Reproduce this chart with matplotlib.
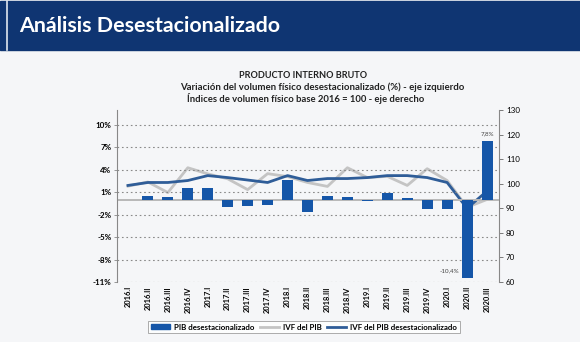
import numpy as np
import matplotlib.pyplot as plt
from matplotlib.patches import Rectangle
from matplotlib.lines import Line2D

plt.rcParams['font.family'] = ['Lato', 'DejaVu Sans']

# data
quarters = ['2016.I', '2016.II', '2016.III', '2016.IV',
            '2017.I', '2017.II', '2017.III', '2017.IV',
            '2018.I', '2018.II', '2018.III', '2018.IV',
            '2019.I', '2019.II', '2019.III', '2019.IV',
            '2020.I', '2020.II', '2020.III']
pib_desest = [np.nan, 0.5, 0.3, 1.6, 1.6, -1.0, -0.8, -0.7, 2.7, -1.7,
              0.5, 0.4, -0.2, 0.9, 0.2, -1.2, -1.2, -10.4, 7.8]
ivf_pib = [99.0, 100.7, 96.4, 106.5, 104.0, 102.0, 97.6, 104.1, 102.9, 100.5,
           98.9, 106.5, 102.5, 103.0, 99.3, 106.1, 101.3, 90.4, 93.6]
ivf_desest = [99.3, 100.5, 100.5, 101.3, 103.3, 102.5, 101.5, 100.5, 103.3, 101.3,
              102.1, 102.1, 102.5, 103.3, 103.3, 102.5, 100.5, 90.0, 97.0]
left_ticks = [10, 7, 4, 1, -2, -5, -8, -11]
right_ticks = [60, 70, 80, 90, 100, 110, 120, 130]

bar_color = '#1556a8'
dark_line = '#2f5d98'
gray_line = '#c4c4c4'
bg = '#f5f6f8'

W, H = 580, 342
fig = plt.figure(figsize=(W / 100, H / 100), dpi=100, facecolor=bg)

# header band
fig.patches.append(Rectangle((0, 1 - 50 / H), 1, 49 / H, transform=fig.transFigure,
                             color='#0f3572', zorder=0))
fig.add_artist(Line2D([7 / W, 7 / W], [1 - 50 / H, 1 - 1 / H], transform=fig.transFigure,
                      color='#dfe6f0', lw=1.2))
fig.text(19 / W, 1 - 26 / H, 'Análisis Desestacionalizado', color='white',
         fontsize=15.4, fontweight='bold', va='center', ha='left')

# chart titles
fig.text(303 / W, 1 - 75 / H, 'PRODUCTO INTERNO BRUTO', fontsize=6.6,
         fontweight='bold', ha='center', va='center', color='#222222')
fig.text(322 / W, 1 - 87 / H,
         'Variación del volumen físico desestacionalizado (%) - eje izquierdo',
         fontsize=6.9, fontweight='bold', ha='center', va='center', color='#222222')
fig.text(306 / W, 1 - 99 / H, 'Índices de volumen físico base 2016 = 100 - eje derecho',
         fontsize=6.8, fontweight='bold', ha='center', va='center', color='#222222')

ax = fig.add_axes([117 / W, 1 - 282 / H, (499 - 117) / W, (282 - 110) / H])
ax2 = ax.twinx()
ax.set_zorder(ax2.get_zorder() + 1)
ax.patch.set_visible(False)
ax2.patch.set_facecolor(bg)

x = np.arange(len(quarters))

ax2.plot(x, ivf_pib, color=gray_line, lw=2.0, zorder=2)
ax2.plot(x, ivf_desest, color=dark_line, lw=2.0, zorder=3)

ax.axhline(0, color='#b8b8b8', lw=1.4, zorder=1)
ax.bar(x, pib_desest, width=0.55, color=bar_color, zorder=3)

ax.annotate('7,8%', (x[-1], pib_desest[-1]), xytext=(0, 4), textcoords='offset points',
            ha='center', va='bottom', fontsize=4.5, color='#444444')
ax.annotate('-10,4%', (x[-2], pib_desest[-2]), xytext=(-6, 3), textcoords='offset points',
            ha='right', va='bottom', fontsize=4.5, color='#444444')

ax.set_xlim(-0.55, 18.6)
ax.set_ylim(-11, 12)
ax2.set_ylim(60, 130)

ax.set_yticks(left_ticks)
ax.set_yticklabels([f'{t}%' for t in left_ticks], fontsize=5.8, fontweight='bold')
ax.grid(axis='y', linestyle=(0, (1.5, 2.5)), color='#8a8a8a', lw=0.8)
ax.set_xticks(x)
ax.set_xticklabels(quarters, rotation=90, fontsize=5.4, fontweight='bold')
ax.tick_params(axis='x', length=0, pad=3)
ax.tick_params(axis='y', length=2.5, color='#888888', width=0.6, pad=1.5)

ax2.set_yticks(right_ticks)
ax2.set_yticklabels([str(t) for t in right_ticks], fontsize=5.8)
ax2.tick_params(axis='y', length=3, color='#666666', width=0.6, pad=2)

for a in (ax, ax2):
    for s in ('top', 'bottom'):
        a.spines[s].set_visible(False)
ax.spines['right'].set_visible(False)
ax2.spines['left'].set_visible(False)
ax.spines['left'].set_color('#888888')
ax.spines['left'].set_linewidth(0.8)
ax2.spines['right'].set_color('#888888')
ax2.spines['right'].set_linewidth(0.8)

handles = [Rectangle((0, 0), 1, 1, color=bar_color),
           Line2D([], [], color=gray_line, lw=2),
           Line2D([], [], color=dark_line, lw=2)]
labels = ['PIB desestacionalizado', 'IVF del PIB', 'IVF del PIB desestacionalizado']
leg = fig.legend(handles, labels, loc='center', bbox_to_anchor=(304 / W, 1 - 327 / H),
                 ncol=3, frameon=True, fancybox=False, edgecolor='#888888',
                 prop={'weight': 'bold', 'size': 5.7},
                 handlelength=2.4, handleheight=0.5, columnspacing=0.7,
                 handletextpad=0.5, borderpad=0.35)
leg.get_frame().set_linewidth(0.6)
leg.get_frame().set_facecolor('white')

fig.savefig('out.png', dpi=100, facecolor=bg)
